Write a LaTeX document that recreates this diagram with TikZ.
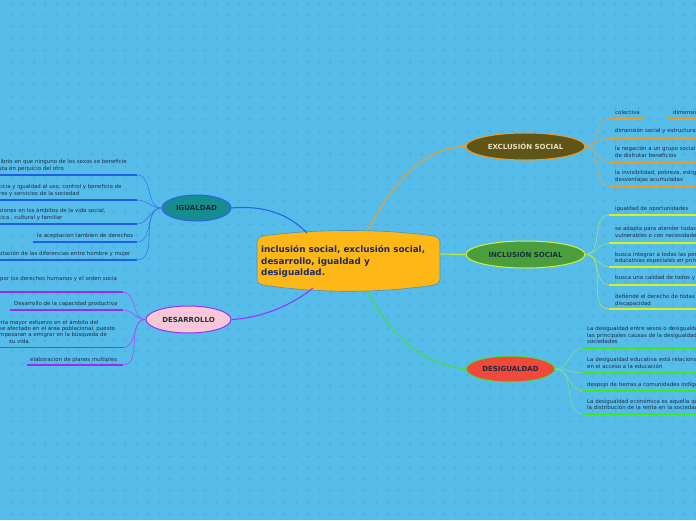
\documentclass[tikz,border=0pt]{standalone}
\usepackage{fontspec}
\setmainfont{DejaVu Sans}
\usetikzlibrary{shapes.geometric}
\definecolor{bg}{HTML}{56BDEA}
\definecolor{plusc}{HTML}{4FB2E2}
\definecolor{leaftext}{HTML}{1E2A44}
\definecolor{ublue}{HTML}{1F5FE8}
\definecolor{cblue}{HTML}{3A78EA}
\definecolor{upurple}{HTML}{9A2BF0}
\definecolor{cpurple}{HTML}{A650F0}
\definecolor{uorange}{HTML}{F29A1E}
\definecolor{corange}{HTML}{D9A645}
\definecolor{uyellow}{HTML}{D4F21E}
\definecolor{cyellow}{HTML}{A8E070}
\definecolor{ugreen}{HTML}{3FE81E}
\definecolor{cgreen}{HTML}{80E080}
\definecolor{centralfill}{HTML}{FDB817}
\definecolor{centralborder}{HTML}{4A90C8}
\definecolor{centraltext}{HTML}{1E2A5A}
\definecolor{exfill}{HTML}{5F5516}
\definecolor{extext}{HTML}{E8DFC0}
\definecolor{infill}{HTML}{4A9F3C}
\definecolor{indraw}{HTML}{D0F040}
\definecolor{intext}{HTML}{17323C}
\definecolor{defill}{HTML}{F0483A}
\definecolor{dedraw}{HTML}{44E04A}
\definecolor{detext}{HTML}{1E2A3A}
\definecolor{igfill}{HTML}{168D8F}
\definecolor{igdraw}{HTML}{2A62F0}
\definecolor{igtext}{HTML}{0F3030}
\definecolor{dsfill}{HTML}{F9C8D8}
\definecolor{dsdraw}{HTML}{9B30F0}
\definecolor{dstext}{HTML}{0F3A3A}
\definecolor{mblue}{HTML}{2563EB}
\definecolor{mpurple}{HTML}{9933FF}
\definecolor{morange}{HTML}{E8A030}
\definecolor{myellow}{HTML}{B8E84A}
\definecolor{mgreen}{HTML}{40E040}
\begin{document}
\begin{tikzpicture}[x=1pt,y=-1pt,
  plus/.style={draw=plusc, line width=0.5pt},
  leaf/.style={anchor=base west, inner sep=0pt, font=\fontsize{5.45}{6.5}\selectfont, text=leaftext},
  mainnode/.style={ellipse, inner sep=0pt, line width=1pt, font=\fontsize{7}{8}\selectfont\bfseries},
  ulb/.style={draw=ublue, line width=1.6pt},
  ulp/.style={draw=upurple, line width=1.6pt},
  ulo/.style={draw=uorange, line width=1.6pt},
  uly/.style={draw=uyellow, line width=1.6pt},
  ulg/.style={draw=ugreen, line width=1.6pt},
  cnb/.style={draw=cblue, line width=0.6pt},
  cnp/.style={draw=cpurple, line width=0.6pt},
  cno/.style={draw=corange, line width=0.6pt},
  cny/.style={draw=cyellow, line width=0.6pt},
  cng/.style={draw=cgreen, line width=0.6pt},
]
\useasboundingbox (0,0) rectangle (696,520);
\clip (0,0) rectangle (696,520);
\fill[bg] (0,0) rectangle (696,520);
\foreach \i in {0,...,61} {\foreach \j in {0,...,44} {
  \draw[plus] ({11.4*\i+11},{11.6*\j+3.5}) +(-2.2,0) -- +(2.2,0) +(0,-2.2) -- +(0,2.2);
}}

% ---------- central node ----------
\draw[fill=centralfill, draw=centralborder, line width=0.6pt]
  (257,242) .. controls (257,237) and (261,236) .. (270,235)
  .. controls (320,229) and (378,229) .. (427,235)
  .. controls (436,236) and (440,237) .. (440,242)
  -- (440,279)
  .. controls (440,284) and (436,285) .. (427,286)
  .. controls (378,293) and (320,293) .. (270,286)
  .. controls (261,285) and (257,284) .. (257,279) -- cycle;
\node[anchor=west, inner sep=0pt, align=left, text=centraltext,
  font=\fontsize{8.8}{11.5}\selectfont\bfseries] (c) at (261,261.5)
  {inclusión social, exclusión social,\\desarrollo, igualdad y\\desigualdad.};
\coordinate (cIg) at (307,233);
\coordinate (cEx) at (367,231);
\coordinate (cIn) at (440,254);
\coordinate (cDs) at (313,288);
\coordinate (cDe) at (367,291);

% ---------- main nodes ----------
\node[mainnode, fill=exfill, draw=uorange, text=extext, minimum width=119pt, minimum height=27pt] (ex) at (525.5,146.5) {EXCLUSIÓN SOCIAL};
\node[mainnode, fill=infill, draw=indraw, text=intext, minimum width=119pt, minimum height=27pt] (in) at (525.5,254.5) {INCLUSIÓN SOCIAL};
\node[mainnode, fill=defill, draw=dedraw, text=detext, minimum width=89pt, minimum height=26pt] (de) at (510.5,369) {DESIGUALDAD};
\node[mainnode, fill=igfill, draw=igdraw, text=igtext, minimum width=69pt, minimum height=26pt] (ig) at (196.5,208) {IGUALDAD};
\node[mainnode, fill=dsfill, draw=dsdraw, text=dstext, minimum width=85pt, minimum height=27pt] (ds) at (188.5,319.5) {DESARROLLO};

% main connectors
\draw[draw=mblue, line width=1.1pt] (ig.east) .. controls (265,205) and (290,215) .. (cIg);
\draw[draw=mpurple, line width=1.1pt] (ds.east) .. controls (262,318) and (292,305) .. (cDs);
\draw[draw=morange, line width=1.1pt] (cEx) .. controls (395,180) and (425,147) .. (ex.west);
\draw[draw=myellow, line width=1.1pt] (cIn) -- (in.west);
\draw[draw=mgreen, line width=1.1pt] (cDe) .. controls (390,332) and (418,364) .. (de.west);

% ---------- IGUALDAD leaves ----------
\node[leaf] (ig1a) at (-1,163.5) {librio en que ninguno de los sexos se beneficie};
\node[leaf] (ig1b) at (-1,170.5) {sta en perjuicio del otro};
\node[leaf] (ig2a) at (-1,188.5) {ticia y igualdad al uso, control y beneficio de};
\node[leaf] (ig2b) at (-1,195) {res y servicios de la sociedad};
\node[leaf] (ig3a) at (-1,212.5) {siones en los ámbitos de la vida social,};
\node[leaf] (ig3b) at (-1,219.5) {tica , cultural y familiar};
\node[leaf] (ig4a) at (37,237.5) {la aceptacion tambien de derechos};
\node[leaf] (ig5a) at (-1,255.5) {ptación de las diferencias entre hombre y mujer};
\coordinate (igu1) at (137,175);
\coordinate (igu2) at (137,200);
\coordinate (igu3) at (137,224);
\coordinate (igu4) at (137,242);
\coordinate (igu5) at (137,260);
\draw[ulb] (0,175) -- (igu1);
\draw[ulb] (0,200) -- (igu2);
\draw[ulb] (0,224) -- (igu3);
\draw[ulb] (33,242) -- (igu4);
\draw[ulb] (0,260) -- (igu5);
\foreach \k in {1,...,5} {\draw[cnb] (ig.west) to[out=180,in=0] (igu\k);}

% ---------- DESARROLLO leaves ----------
\node[leaf] (ds1a) at (0,280.5) {por los derechos humanos y el orden socia};
\node[leaf] (ds2a) at (14,305) {Desarrollo de la capacidad productiva};
\node[leaf] (ds3a) at (-1,324) {nta mayor esfuerzo en el ámbito del};
\node[leaf] (ds3b) at (-1,330.3) {se afectado en el área poblacional, puesto};
\node[leaf] (ds3c) at (-1,336.8) {mpezaran a emigrar en la búsqueda de};
\node[leaf] (ds3d) at (9,343.3) {su vida.};
\node[leaf] (ds4a) at (30,361) {elaboracion de planes multiples};
\coordinate (dsu1) at (123,292);
\coordinate (dsu2) at (123,310);
\coordinate (dsu3) at (123,347.5);
\coordinate (dsu4) at (123,365);
\draw[ulp] (0,292) -- (dsu1);
\draw[ulp] (10,310) -- (dsu2);
\draw[ulp] (0,347.5) -- (dsu3);
\draw[ulp] (27,365) -- (dsu4);
\foreach \k in {1,...,4} {\draw[cnp] (ds.west) to[out=180,in=0] (dsu\k);}

% ---------- EXCLUSION leaves ----------
\node[leaf] (ex1a) at (615,114.5) {colectiva};
\node[leaf] (ex1b) at (673,114.5) {dimensió};
\node[leaf] (ex2a) at (615,132.5) {dimensión social y estructural};
\node[leaf] (ex3a) at (615,150.5) {la negación a un grupo social};
\node[leaf] (ex3b) at (615,157.5) {de disfrutar beneficios};
\node[leaf] (ex4a) at (615,174.5) {la invisibilidad, pobreza, estig};
\node[leaf] (ex4b) at (615,181.5) {desventajas acumuladas};
\coordinate (exu1) at (609,119);
\coordinate (exu2) at (609,138);
\coordinate (exu3) at (609,162);
\coordinate (exu4) at (609,186);
\draw[ulo] (exu1) -- (643,119);
\draw[ulo] (668,119) -- (697,119);
\draw[ulo] (exu2) -- (697,138);
\draw[ulo] (exu3) -- (697,162);
\draw[ulo] (exu4) -- (697,186);
\foreach \k in {1,...,4} {\draw[cno] (ex.east) to[out=0,in=180] (exu\k);}

% ---------- INCLUSION leaves ----------
\node[leaf] (in1a) at (615,210.5) {igualdad de oportunidades};
\node[leaf] (in2a) at (615,230.5) {se adapta para atender todas};
\node[leaf] (in2b) at (615,237.5) {vulnerables o con necesidade};
\node[leaf] (in3a) at (615,256.5) {busca integrar a todas las per};
\node[leaf] (in3b) at (615,262.8) {educativas especiales en prin};
\node[leaf] (in4a) at (615,279.5) {busca una calidad de todos y};
\node[leaf] (in5a) at (615,298.5) {defiende el derecho de todas};
\node[leaf] (in5b) at (615,305.2) {discapacidad};
\coordinate (inu1) at (609,215);
\coordinate (inu2) at (609,243);
\coordinate (inu3) at (609,267);
\coordinate (inu4) at (609,285);
\coordinate (inu5) at (609,309);
\foreach \k in {1,...,5} {\draw[uly] (inu\k) -- ++(90,0);}
\foreach \k in {1,...,5} {\draw[cny] (in.east) to[out=0,in=180] (inu\k);}

% ---------- DESIGUALDAD leaves ----------
\node[leaf] (de1a) at (587,330.5) {La desigualdad entre sexos o desigualda};
\node[leaf] (de1b) at (587,337.2) {las principales causas de la desigualdad};
\node[leaf] (de1c) at (587,343.8) {sociedades};
\node[leaf] (de2a) at (587,361.5) {La desigualdad educativa está relaciona};
\node[leaf] (de2b) at (587,368) {en el acceso a la educación};
\node[leaf] (de3a) at (587,386.5) {despojo de tierras a comunidades indíge};
\node[leaf] (de4a) at (587,403.8) {La desigualdad económica es aquella qu};
\node[leaf] (de4b) at (587,409.8) {la distribución de la renta en la sociedad};
\coordinate (deu1) at (583,348);
\coordinate (deu2) at (583,373);
\coordinate (deu3) at (583,391);
\coordinate (deu4) at (583,414);
\foreach \k in {1,...,4} {\draw[ulg] (deu\k) -- ++(115,0);}
\foreach \k in {1,...,4} {\draw[cng] (de.east) to[out=0,in=180] (deu\k);}
\end{tikzpicture}
\end{document}
